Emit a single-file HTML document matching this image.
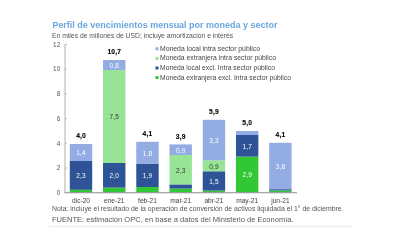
<!DOCTYPE html>
<html><head><meta charset="utf-8"><style>
html,body{margin:0;padding:0;background:#fff;}
body{width:400px;height:250px;overflow:hidden;position:relative;font-family:"Liberation Sans",sans-serif;}
svg{position:absolute;left:0;top:0;}
text{font-family:"Liberation Sans",sans-serif;}
.sl{font-size:6.5px;text-anchor:middle;letter-spacing:0.2px;}
.tl{font-size:6.7px;font-weight:bold;text-anchor:middle;fill:#000;stroke:#000;stroke-width:0.12px;letter-spacing:0.15px;}
.cl{font-size:6.6px;text-anchor:middle;fill:#444;}
.yl{font-size:6.4px;text-anchor:end;fill:#555;}
.lg{font-size:6.5px;fill:#444;}
.title{font-size:8.6px;font-weight:bold;fill:#6AA6DF;}
.sub{font-size:7.3px;fill:#555;}
.nota{font-size:6.8px;fill:#555;}
.fuente{font-size:8.1px;fill:#555;}
</style></head><body>
<svg width="400" height="250" viewBox="0 0 400 250">
<defs><filter id="bl" x="-5%" y="-5%" width="110%" height="110%"><feGaussianBlur stdDeviation="0.5"/></filter></defs><g filter="url(#bl)">
<text x="52.4" y="27.9" class="title" textLength="225" lengthAdjust="spacingAndGlyphs">Perfil de vencimientos mensual por moneda y sector</text>
<text x="52.0" y="38" class="sub" textLength="181.2" lengthAdjust="spacingAndGlyphs">En miles de millones de USD; incluye amortización e interés</text>
<rect x="69.80" y="189.80" width="22.4" height="2.70" fill="#30C834"/>
<rect x="69.80" y="161.00" width="22.4" height="28.80" fill="#2D5296"/>
<text x="81.10" y="178.20" class="sl" fill="#fff">2,3</text>
<rect x="69.80" y="144.00" width="22.4" height="17.00" fill="#93ACE4"/>
<text x="81.10" y="155.30" class="sl" fill="#fff">1,4</text>
<text x="81.00" y="138.20" class="tl">4,0</text>
<text x="81.00" y="202.70" class="cl">dic-20</text>
<rect x="103.03" y="187.60" width="22.4" height="4.90" fill="#30C834"/>
<rect x="103.03" y="163.00" width="22.4" height="24.60" fill="#2D5296"/>
<text x="114.33" y="178.10" class="sl" fill="#fff">2,0</text>
<rect x="103.03" y="70.00" width="22.4" height="93.00" fill="#97E496"/>
<text x="114.33" y="119.30" class="sl" fill="#333">7,5</text>
<rect x="103.03" y="60.00" width="22.4" height="10.00" fill="#93ACE4"/>
<text x="114.33" y="67.80" class="sl" fill="#fff">0,8</text>
<text x="114.23" y="54.20" class="tl">10,7</text>
<text x="114.23" y="202.70" class="cl">ene-21</text>
<rect x="136.27" y="187.00" width="22.4" height="5.50" fill="#30C834"/>
<rect x="136.27" y="163.60" width="22.4" height="23.40" fill="#2D5296"/>
<text x="147.57" y="178.10" class="sl" fill="#fff">1,9</text>
<rect x="136.27" y="141.80" width="22.4" height="21.80" fill="#93ACE4"/>
<text x="147.57" y="155.50" class="sl" fill="#fff">1,8</text>
<text x="147.47" y="136.00" class="tl">4,1</text>
<text x="147.47" y="202.70" class="cl">feb-21</text>
<rect x="169.50" y="188.60" width="22.4" height="3.90" fill="#30C834"/>
<rect x="169.50" y="184.40" width="22.4" height="4.20" fill="#2D5296"/>
<rect x="169.50" y="155.00" width="22.4" height="29.40" fill="#97E496"/>
<text x="180.80" y="172.50" class="sl" fill="#333">2,3</text>
<rect x="169.50" y="144.40" width="22.4" height="10.60" fill="#93ACE4"/>
<text x="180.80" y="152.50" class="sl" fill="#fff">0,9</text>
<text x="180.70" y="138.60" class="tl">3,9</text>
<text x="180.70" y="202.70" class="cl">mar-21</text>
<rect x="202.73" y="190.60" width="22.4" height="1.90" fill="#30C834"/>
<rect x="202.73" y="171.30" width="22.4" height="19.30" fill="#2D5296"/>
<text x="214.03" y="183.75" class="sl" fill="#fff">1,5</text>
<rect x="202.73" y="160.30" width="22.4" height="11.00" fill="#97E496"/>
<text x="214.03" y="168.60" class="sl" fill="#333">0,9</text>
<rect x="202.73" y="119.80" width="22.4" height="40.50" fill="#93ACE4"/>
<text x="214.03" y="142.85" class="sl" fill="#fff">3,3</text>
<text x="213.93" y="114.00" class="tl">5,9</text>
<text x="213.93" y="202.70" class="cl">abr-21</text>
<rect x="235.96" y="156.60" width="22.4" height="35.90" fill="#30C834"/>
<text x="247.26" y="177.35" class="sl" fill="#fff">2,9</text>
<rect x="235.96" y="135.00" width="22.4" height="21.60" fill="#2D5296"/>
<text x="247.26" y="148.60" class="sl" fill="#fff">1,7</text>
<rect x="235.96" y="131.00" width="22.4" height="4.00" fill="#93ACE4"/>
<text x="247.16" y="125.20" class="tl">5,0</text>
<text x="247.16" y="202.70" class="cl">may-21</text>
<rect x="269.20" y="190.50" width="22.4" height="2.00" fill="#30C834"/>
<rect x="269.20" y="189.20" width="22.4" height="1.30" fill="#2D5296"/>
<rect x="269.20" y="142.80" width="22.4" height="46.40" fill="#93ACE4"/>
<text x="280.50" y="168.80" class="sl" fill="#fff">3,8</text>
<text x="280.40" y="137.00" class="tl">4,1</text>
<text x="280.40" y="202.70" class="cl">jun-21</text>
<line x1="65" y1="44.2" x2="65" y2="192.8" stroke="#999" stroke-width="0.8"/>
<line x1="64.65" y1="192.8" x2="297" y2="192.8" stroke="#8c8c8c" stroke-width="1.1"/>
<line x1="65" y1="168.07" x2="67" y2="168.07" stroke="#9a9a9a" stroke-width="0.6"/>
<line x1="65" y1="143.33" x2="67" y2="143.33" stroke="#9a9a9a" stroke-width="0.6"/>
<line x1="65" y1="118.60" x2="67" y2="118.60" stroke="#9a9a9a" stroke-width="0.6"/>
<line x1="65" y1="93.87" x2="67" y2="93.87" stroke="#9a9a9a" stroke-width="0.6"/>
<line x1="65" y1="69.13" x2="67" y2="69.13" stroke="#9a9a9a" stroke-width="0.6"/>
<line x1="65" y1="44.40" x2="67" y2="44.40" stroke="#9a9a9a" stroke-width="0.6"/>
<text x="60.2" y="195.00" class="yl">0</text>
<text x="60.2" y="170.27" class="yl">2</text>
<text x="60.2" y="145.53" class="yl">4</text>
<text x="60.2" y="120.80" class="yl">6</text>
<text x="60.2" y="96.07" class="yl">8</text>
<text x="60.2" y="71.33" class="yl">10</text>
<text x="60.2" y="46.60" class="yl">12</text>
<rect x="155.5" y="47.30" width="3" height="3" fill="#93ACE4"/>
<text x="160" y="50.80" class="lg" textLength="100" lengthAdjust="spacingAndGlyphs">Moneda local intra sector público</text>
<rect x="155.5" y="56.90" width="3" height="3" fill="#97E496"/>
<text x="160" y="60.40" class="lg" textLength="116" lengthAdjust="spacingAndGlyphs">Moneda extranjera intra sector público</text>
<rect x="155.5" y="66.50" width="3" height="3" fill="#2D5296"/>
<text x="160" y="70.00" class="lg" textLength="115" lengthAdjust="spacingAndGlyphs">Moneda local excl. Intra sector público</text>
<rect x="155.5" y="76.10" width="3" height="3" fill="#30C834"/>
<text x="160" y="79.60" class="lg" textLength="131" lengthAdjust="spacingAndGlyphs">Moneda extranjera excl. Intra sector público</text>
<text x="52.0" y="210.9" class="nota" textLength="291.6" lengthAdjust="spacingAndGlyphs">Nota: incluye el resultado de la operación de conversión de activos liquidada el 1° de diciembre.</text>
<text x="51.9" y="222.3" class="fuente" textLength="241.7" lengthAdjust="spacingAndGlyphs">FUENTE: estimación OPC, en base a datos del Ministerio de Economía.</text>
<line x1="49" y1="226.3" x2="352" y2="226.3" stroke="#e8e8e8" stroke-width="1"/>
</g></svg>
</body></html>
